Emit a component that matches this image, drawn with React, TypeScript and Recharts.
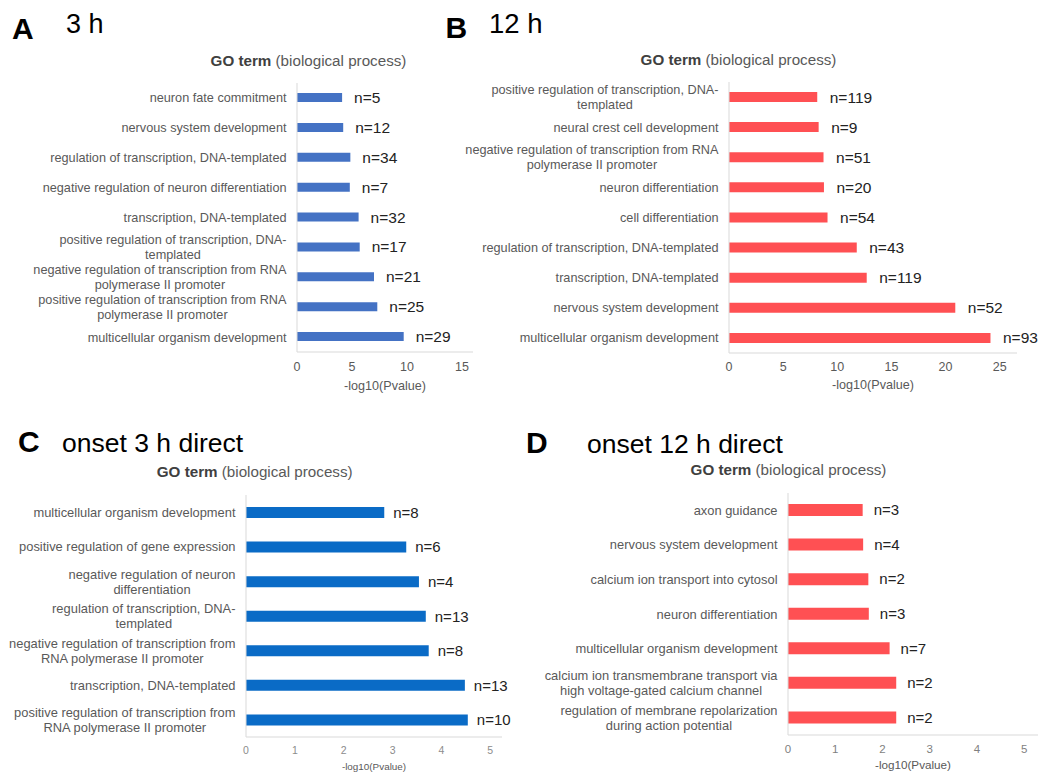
import React from 'react';
import { BarChart, Bar, XAxis, YAxis, LabelList } from 'recharts';

// Panel A: 3 h
const termsA = [
  'neuron fate commitment',
  'nervous system development',
  'regulation of transcription, DNA-templated',
  'negative regulation of neuron differentiation',
  'transcription, DNA-templated',
  'positive regulation of transcription, DNA-\ntemplated',
  'negative regulation of transcription from RNA\npolymerase II promoter',
  'positive regulation of transcription from RNA\npolymerase II promoter',
  'multicellular organism development',
];
const log10pA = [4.1, 4.2, 4.85, 4.8, 5.6, 5.7, 7.0, 7.3, 9.7];
const countsA = [5, 12, 34, 7, 32, 17, 21, 25, 29];
const ticksA = [0, 5, 10, 15];

// Panel B: 12 h
const termsB = [
  'positive regulation of transcription, DNA-\ntemplated',
  'neural crest cell development',
  'negative regulation of transcription from RNA\npolymerase II promoter',
  'neuron differentiation',
  'cell differentiation',
  'regulation of transcription, DNA-templated',
  'transcription, DNA-templated',
  'nervous system development',
  'multicellular organism development',
];
const log10pB = [8.15, 8.28, 8.73, 8.77, 9.1, 11.8, 12.72, 20.9, 24.15];
const countsB = [119, 9, 51, 20, 54, 43, 119, 52, 93];
const ticksB = [0, 5, 10, 15, 20, 25];

// Panel C: onset 3 h direct
const termsC = [
  'multicellular organism development',
  'positive regulation of gene expression',
  'negative regulation of neuron\ndifferentiation',
  'regulation of transcription, DNA-\ntemplated',
  'negative regulation of transcription from\nRNA polymerase II promoter',
  'transcription, DNA-templated',
  'positive regulation of transcription from\nRNA polymerase II promoter',
];
const log10pC = [2.83, 3.28, 3.54, 3.68, 3.74, 4.48, 4.54];
const countsC = [8, 6, 4, 13, 8, 13, 10];
const ticksC = [0, 1, 2, 3, 4, 5];

// Panel D: onset 12 h direct
const termsD = [
  'axon guidance',
  'nervous system development',
  'calcium ion transport into cytosol',
  'neuron differentiation',
  'multicellular organism development',
  'calcium ion transmembrane transport via\nhigh voltage-gated calcium channel',
  'regulation of membrane repolarization\nduring action potential',
];
const log10pD = [1.58, 1.59, 1.7, 1.71, 2.15, 2.29, 2.29];
const countsD = [3, 4, 2, 3, 7, 2, 2];
const ticksD = [0, 1, 2, 3, 4, 5];

const FONT = '"Liberation Sans", Arial, sans-serif';
const LABEL_GRAY = '#595959';
const AXIS_GRAY = '#d9d9d9';

const measureCtx =
  typeof document !== 'undefined' ? document.createElement('canvas').getContext('2d') : null;

function textWidth(s: string, size: number) {
  if (!measureCtx) return s.length * size * 0.5;
  measureCtx.font = `${size}px ${FONT}`;
  return measureCtx.measureText(s).width;
}

// category label: multi-line terms are centred as a block, block right-aligned to the axis
function TermTick(props: any) {
  const { x, y, payload, size } = props;
  const lines = String(payload.value).split('\n');
  const widest = Math.max(...lines.map((l: string) => textWidth(l, size)));
  const cx = x - widest / 2;
  const lineH = 15;
  const y0 = y - ((lines.length - 1) * lineH) / 2;
  return (
    <text textAnchor="middle" fontSize={size} fill={LABEL_GRAY} fontFamily={FONT}>
      {lines.map((l: string, i: number) => (
        <tspan key={i} x={cx} y={y0 + i * lineH} dy="0.355em">
          {l}
        </tspan>
      ))}
    </text>
  );
}

interface PanelProps {
  terms: string[];
  values: number[];
  counts: number[];
  ticks: number[];
  domainMax: number;
  color: string;
  left: number;
  top: number;
  width: number;
  height: number;
  margin: { top: number; right: number; bottom: number; left: number };
  yWidth: number;
  xHeight: number;
  barSize: number;
  countOffset: number;
  termSize: number;
  countSize: number;
  tickSize: number;
  tickFill: string;
  tickGap: number;
  titleSize: number;
  titleOffset: number;
}

function GoPanel(p: PanelProps) {
  const rows = p.terms.map((term, i) => ({ term, value: p.values[i], n: p.counts[i] }));
  return (
    <div style={{ position: 'absolute', left: p.left, top: p.top }}>
      <BarChart width={p.width} height={p.height} data={rows} layout="vertical" margin={p.margin}>
        <XAxis
          type="number"
          domain={[0, p.domainMax]}
          ticks={p.ticks}
          height={p.xHeight}
          tickLine={false}
          tickSize={0}
          tickMargin={p.tickGap}
          axisLine={{ stroke: AXIS_GRAY }}
          tick={{ fontSize: p.tickSize, fill: p.tickFill, fontFamily: FONT }}
          label={{
            value: '-log10(Pvalue)',
            position: 'insideBottom',
            offset: p.titleOffset,
            fontSize: p.titleSize,
            fill: LABEL_GRAY,
            fontFamily: FONT,
          }}
        />
        <YAxis
          type="category"
          dataKey="term"
          width={p.yWidth}
          tickLine={false}
          tickSize={0}
          tickMargin={10.5}
          axisLine={{ stroke: AXIS_GRAY }}
          interval={0}
          tick={(tp: any) => <TermTick {...tp} size={p.termSize} />}
        />
        <Bar dataKey="value" fill={p.color} barSize={p.barSize} isAnimationActive={false}>
          <LabelList
            dataKey="n"
            position="right"
            offset={p.countOffset}
            formatter={(v: any) => `n=${v}`}
            fill="#222222"
            fontSize={p.countSize}
            fontFamily={FONT}
          />
        </Bar>
      </BarChart>
    </div>
  );
}

function GoTitle({ x, y }: { x: number; y: number }) {
  return (
    <text x={x} y={y} textAnchor="middle" fontSize={15.2} fontFamily={FONT}>
      <tspan fontWeight="bold" fill="#404040">
        GO term
      </tspan>
      <tspan fill={LABEL_GRAY}> (biological process)</tspan>
    </text>
  );
}

export default function App() {
  return (
    <div
      style={{
        position: 'absolute',
        left: 0,
        top: 0,
        width: 1039,
        height: 774,
        background: '#ffffff',
        fontFamily: FONT,
      }}
    >
      <svg width={1039} height={774} style={{ position: 'absolute', left: 0, top: 0 }}>
        <g fontFamily={FONT} fill="#000000">
          <text x={12} y={39} fontSize={30} fontWeight="bold">A</text>
          <text x={66} y={33} fontSize={27}>3 h</text>
          <text x={445.5} y={38} fontSize={30} fontWeight="bold">B</text>
          <text x={489} y={33} fontSize={27.5}>12 h</text>
          <text x={18} y={452} fontSize={30} fontWeight="bold">C</text>
          <text x={62} y={452} fontSize={26.5}>onset 3 h direct</text>
          <text x={526} y={453} fontSize={30} fontWeight="bold">D</text>
          <text x={587} y={453} fontSize={26.5}>onset 12 h direct</text>
        </g>
        <GoTitle x={308.5} y={66} />
        <GoTitle x={738.5} y={65} />
        <GoTitle x={254.7} y={477} />
        <GoTitle x={788.5} y={475} />
      </svg>

      <GoPanel
        terms={termsA}
        values={log10pA}
        counts={countsA}
        ticks={ticksA}
        domainMax={16}
        color="#4472c4"
        left={0}
        top={0}
        width={480}
        height={400}
        margin={{ top: 83, right: 7, bottom: 8, left: 0 }}
        yWidth={297}
        xHeight={40}
        barSize={9}
        countOffset={12}
        termSize={12.7}
        countSize={15.5}
        tickSize={12.5}
        tickFill={LABEL_GRAY}
        tickGap={10.6}
        titleSize={12.6}
        titleOffset={2}
      />
      <GoPanel
        terms={termsB}
        values={log10pB}
        counts={countsB}
        ticks={ticksB}
        domainMax={26.6}
        color="#ff5053"
        left={440}
        top={0}
        width={599}
        height={400}
        margin={{ top: 82, right: 22, bottom: 7, left: 0 }}
        yWidth={289}
        xHeight={40}
        barSize={10}
        countOffset={12.5}
        termSize={12.7}
        countSize={15.5}
        tickSize={12.5}
        tickFill={LABEL_GRAY}
        tickGap={9.6}
        titleSize={12.6}
        titleOffset={4}
      />
      <GoPanel
        terms={termsC}
        values={log10pC}
        counts={countsC}
        ticks={ticksC}
        domainMax={5.24}
        color="#0a6bc6"
        left={0}
        top={410}
        width={520}
        height={364}
        margin={{ top: 85, right: 18, bottom: 1, left: 0 }}
        yWidth={246}
        xHeight={36}
        barSize={11}
        countOffset={9}
        termSize={12.9}
        countSize={15}
        tickSize={10.5}
        tickFill="#8c8c8c"
        tickGap={9.3}
        titleSize={9.9}
        titleOffset={3}
      />
      <GoPanel
        terms={termsD}
        values={log10pD}
        counts={countsD}
        ticks={ticksD}
        domainMax={5.29}
        color="#ff5053"
        left={520}
        top={410}
        width={519}
        height={364}
        margin={{ top: 83, right: 1, bottom: 3, left: 0 }}
        yWidth={268}
        xHeight={36}
        barSize={12}
        countOffset={11}
        termSize={12.9}
        countSize={15}
        tickSize={11.5}
        tickFill="#7f7f7f"
        tickGap={10}
        titleSize={11.7}
        titleOffset={2}
      />
    </div>
  );
}
